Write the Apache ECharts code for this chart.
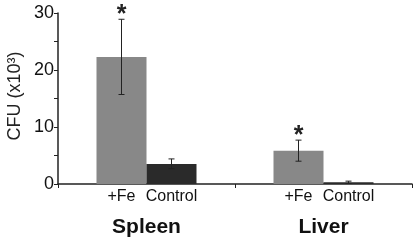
<!DOCTYPE html>
<html>
<head>
<meta charset="utf-8">
<script src="https://cdn.jsdelivr.net/npm/echarts@6/dist/echarts.min.js"></script>
<style>
html,body{margin:0;padding:0;background:#fff;}
#chart{width:415px;height:241px;}
</style>
</head>
<body>
<div id="chart"></div>
<script>
/*数据*/
var organs = ['Spleen', 'Liver'];
var feValues = [22.3, 5.85];
var ctrlValues = [3.5, 0.3];
var feErrLow = [15.7, 4.0];
var feErrHigh = [28.9, 7.7];
var ctrlErrLow = [2.7, 0.1];
var ctrlErrHigh = [4.4, 0.5];
var feStar = [true, true];

var BAR_W = 50;
var FONT = '"Liberation Sans", Arial, sans-serif';

function errData(lo, hi, side, star){
	var arr = [];
	for(var i=0;i<organs.length;i++){
		arr.push([i, lo[i], hi[i], side, star ? (star[i] ? 1 : 0) : 0]);
	}
	return arr;
}

function renderErr(params, api){
	var i = api.value(0);
	var side = api.value(3);
	var top = api.coord([i, api.value(2)]);
	var bot = api.coord([i, api.value(1)]);
	var x = top[0] + side * BAR_W / 2;
	var cap = 3;
	var st = {stroke:'#222', lineWidth:1};
	var kids = [
		{type:'line', shape:{x1:x, y1:top[1], x2:x, y2:bot[1]}, style:st},
		{type:'line', shape:{x1:x-cap, y1:top[1], x2:x+cap, y2:top[1]}, style:st},
		{type:'line', shape:{x1:x-cap, y1:bot[1], x2:x+cap, y2:bot[1]}, style:st}
	];
	if(api.value(4)){
		kids.push({type:'text', style:{text:'*', x:x, y:top[1]-4, align:'center', verticalAlign:'middle',
			font:'bold 25px ' + FONT, fill:'#222'}});
	}
	return {type:'group', children:kids};
}

var myChart = echarts.init(document.getElementById('chart'));
var option = {
	animation:false,
	grid:{left:58, right:3, top:13, bottom:57},
	// y轴标题
	graphic:[{
		type:'text', x:15, y:96, rotation:Math.PI/2,
		style:{
			text:'CFU (x10\u00b3)',
			font:'18px ' + FONT,
			fill:'#222',
			align:'center', verticalAlign:'middle'
		}
	}],
	xAxis:{
		type:'category',
		data:organs,
		boundaryGap:true,
		axisLine:{lineStyle:{color:'#222', width:1.5}},
		axisTick:{show:true, inside:false, length:4, lineStyle:{color:'#222'}},
		axisLabel:{margin:33, fontSize:21, fontWeight:'bold', color:'#111', fontFamily:FONT}
	},
	yAxis:{
		type:'value',
		min:0, max:30, interval:10,
		splitLine:{show:false},
		axisLine:{show:true, lineStyle:{color:'#222', width:1.5}},
		axisTick:{show:true, inside:false, length:4, lineStyle:{color:'#222'}},
		minorTick:{show:true, splitNumber:2, length:4, lineStyle:{color:'#222'}},
		axisLabel:{fontSize:18, color:'#111', margin:4, fontFamily:FONT}
	},
	series:[
		{
			name:'+Fe', type:'bar', data:feValues, barWidth:BAR_W, barGap:'0%',
			itemStyle:{color:'#888888'},
			label:{show:true, position:'bottom', distance:5, formatter:'+Fe', fontSize:16, color:'#111', fontFamily:FONT}
		},
		{
			name:'Control', type:'bar', data:ctrlValues, barWidth:BAR_W, barGap:'0%',
			itemStyle:{color:'#2a2a2a'},
			label:{show:true, position:'bottom', distance:5, formatter:'Control', fontSize:16, color:'#111', fontFamily:FONT}
		},
		{type:'custom', renderItem:renderErr, data:errData(feErrLow, feErrHigh, -1, feStar), z:5},
		{type:'custom', renderItem:renderErr, data:errData(ctrlErrLow, ctrlErrHigh, 1, null), z:5}
	]
};
myChart.setOption(option);
</script>
</body>
</html>
